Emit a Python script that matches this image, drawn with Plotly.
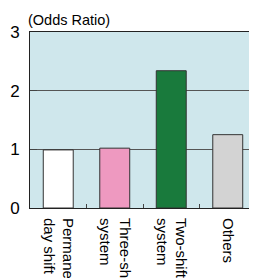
import plotly.graph_objects as go

categories = ["Permanent<br>day shift", "Three-shift<br>system", "Two-shift<br>system", "Others"]
odds_ratio = [0.99, 1.02, 2.34, 1.25]
bar_colors = ["#ffffff", "#ee99c0", "#197a3c", "#d3d3d3"]
y_ticks = [0, 1, 2, 3]

fig = go.Figure(go.Bar(
    x=categories, y=odds_ratio,
    marker=dict(color=bar_colors, line=dict(color="#333333", width=1)),
    width=0.53,
))

# page body has an 8px default margin, so the figure is sized to fit the window
fig.update_layout(
    width=249, height=270,
    margin=dict(l=22, r=1, t=24, b=70, autoexpand=False),
    paper_bgcolor="white",
    plot_bgcolor="#cfe7ec",
    showlegend=False,
    font=dict(family="Liberation Sans, Arial, sans-serif", color="black"),
    annotations=[dict(text="(Odds Ratio)", x=0, xref="paper", xanchor="left", xshift=-4,
                      y=1, yref="paper", yanchor="bottom", yshift=2,
                      showarrow=False, font=dict(size=14.5))],
)
fig.update_yaxes(range=[0, 3], tickvals=y_ticks, ticks="inside", ticklen=7, tickcolor="#444444",
                 showgrid=True, gridcolor="#555555", gridwidth=1, zeroline=False,
                 showline=True, linecolor="#222222", linewidth=1, mirror=True,
                 tickfont=dict(size=17), ticklabelstandoff=6, automargin=False)
fig.update_xaxes(tickangle=90, ticks="inside", tickson="boundaries", ticklen=4, tickcolor="#444444",
                 showline=True, linecolor="#222222", linewidth=1, mirror=True,
                 tickfont=dict(size=15), ticklabelstandoff=6, showgrid=False, automargin=False)

fig.write_html("out.html")
